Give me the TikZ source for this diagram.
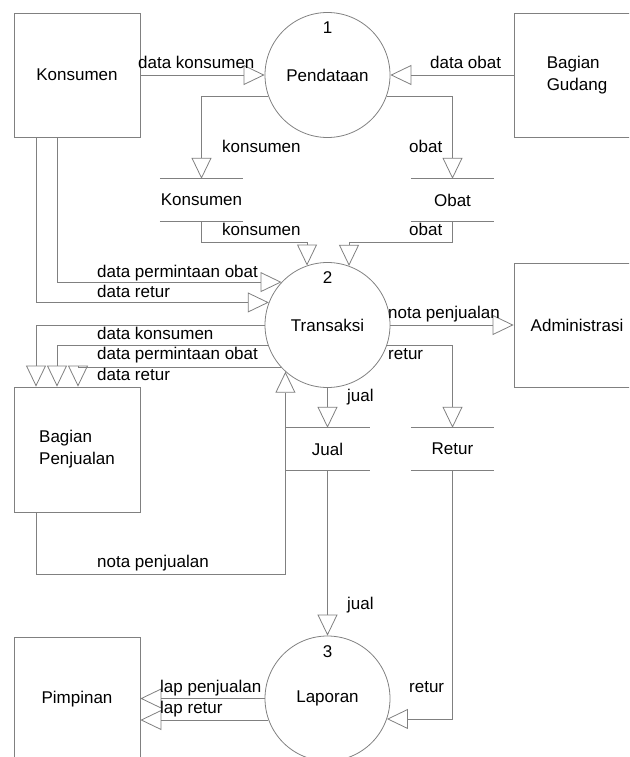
\documentclass[tikz,border=0pt]{standalone}
\usepackage{fontspec}
\setmainfont{Liberation Sans}
\usetikzlibrary{arrows.meta}
\definecolor{edgegray}{RGB}{128,128,128}
\begin{document}
\begin{tikzpicture}[x=1pt,y=-1pt,
  every node/.style={font=\fontsize{17}{22}\selectfont, text=black},
  entity/.style={draw=edgegray, line width=0.8pt, minimum width=126pt, minimum height=124pt, inner sep=0pt},
  process/.style={circle, draw=edgegray, line width=0.8pt, minimum size=125pt, inner sep=0pt},
  store/.style={minimum height=42pt, inner sep=0pt},
  storeline/.style={draw=edgegray, line width=0.8pt},
  flow/.style={draw=edgegray, line width=0.8pt, -{Triangle[open,length=21pt,width=20pt]}},
  lbl/.style={anchor=base west, inner sep=0pt},
  num/.style={inner sep=0pt},
]
\useasboundingbox (0,0) rectangle (629,757);
\clip (0,0) rectangle (629,757);

% external entities
\node[entity] (konsumen) at (77,75) {Konsumen};
\node[entity, align=left] (gudang) at (577,75) {Bagian\\Gudang};
\node[entity] (admin) at (577,325) {Administrasi};
\node[entity, minimum height=125pt, align=left] (penjualan) at (77,449.5) {Bagian\\Penjualan};
\node[entity] (pimpinan) at (77,699) {Pimpinan};

% processes
\node[process] (p1) at (327.5,75) {Pendataan};
\node[process] (p2) at (327.5,325) {Transaksi};
\node[process] (p3) at (327.5,698.5) {Laporan};
\node[num] (n1) at (327.5,28) {1};
\node[num] (n2) at (327.5,278) {2};
\node[num] (n3) at (327.5,652) {3};

% data stores
\node[store, minimum width=83pt] (sK) at (201.5,200) {Konsumen};
\node[store, minimum width=83pt] (sO) at (452.5,200) {Obat};
\node[store, minimum width=84pt] (sJ) at (327.5,449) {Jual};
\node[store, minimum width=83pt] (sR) at (452.5,449) {Retur};
\foreach \s in {sK,sO,sJ,sR}
  \draw[storeline] (\s.north west) -- (\s.north east) (\s.south west) -- (\s.south east);

% flows around Pendataan
\draw[flow] (konsumen) -- (p1);
\draw[flow] (gudang) -- (p1);
\draw[flow] (p1.200.61) -| (sK.north);
\draw[flow] (p1.-20.61) -| (sO.north);

% flows into Transaksi
\draw[flow] (sK.south) -- ++(0,21) -| (p2.109.15);
\draw[flow] (sO.south) -- ++(0,21) -| (p2.70.85);
\draw[flow] ([xshift=-20pt]konsumen.south) |- (p2.137.78);
\draw[flow] ([xshift=-41pt]konsumen.south) |- (p2.159.39);
\draw[flow] ([xshift=-41pt]penjualan.south) -- ++(0,62) -| (p2.228.37);

% flows out of Transaksi
\draw[flow] (p2.west) -| ([xshift=-41pt]penjualan.north);
\draw[flow] (p2.199.63) -| ([xshift=-20pt]penjualan.north);
\draw[flow] (p2.222.22) -| ([xshift=1pt]penjualan.north);
\draw[flow] (p2) -- (admin);
\draw[flow] (p2.-19.63) -| (sR.north);
\draw[flow] (p2.south) -- (sJ.north);

% flows around Laporan
\draw[flow] (sJ.south) -- (p3.north);
\draw[flow] (sR.south) |- (p3.-19.15);
\draw[flow] (p3.west) -- (pimpinan.east |- p3.west);
\draw[flow] (p3.200.12) -- (pimpinan.east |- p3.200.12);

% flow labels
\node[lbl] (t1) at (138,69) {data konsumen};
\node[lbl] (t2) at (430,69) {data obat};
\node[lbl] (t3) at (222,153) {konsumen};
\node[lbl] (t4) at (409,153) {obat};
\node[lbl] (t5) at (222,235) {konsumen};
\node[lbl] (t6) at (409,235) {obat};
\node[lbl] (t7) at (97,277) {data permintaan obat};
\node[lbl] (t8) at (97,297) {data retur};
\node[lbl] (t9) at (97,339) {data konsumen};
\node[lbl] (t10) at (97,359) {data permintaan obat};
\node[lbl] (t11) at (97,380) {data retur};
\node[lbl] (t12) at (97,567) {nota penjualan};
\node[lbl] (t13) at (388,318) {nota penjualan};
\node[lbl] (t14) at (388,359) {retur};
\node[lbl] (t15) at (347,401) {jual};
\node[lbl] (t16) at (347,609) {jual};
\node[lbl] (t17) at (409,692) {retur};
\node[lbl] (t18) at (160,692) {lap penjualan};
\node[lbl] (t19) at (160,713) {lap retur};
\end{tikzpicture}
\end{document}
